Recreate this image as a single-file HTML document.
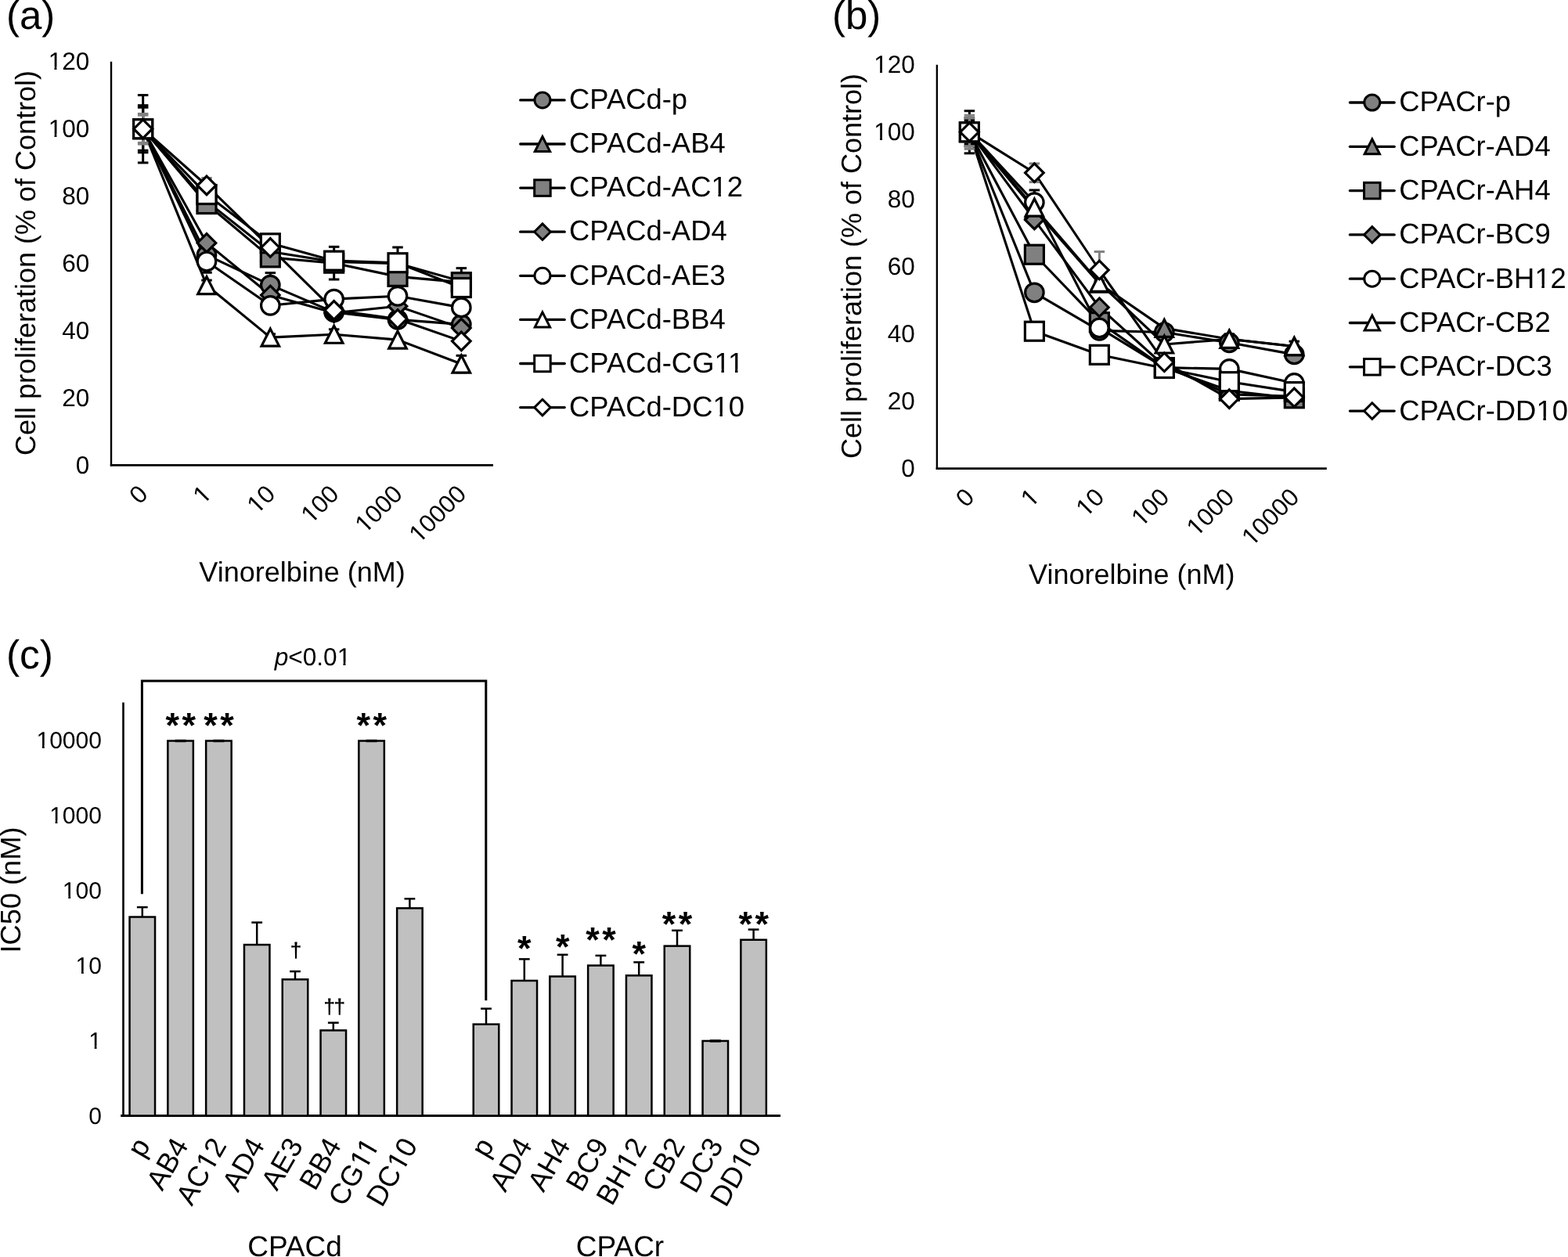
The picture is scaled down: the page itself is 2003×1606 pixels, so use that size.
<!DOCTYPE html><html><head><meta charset="utf-8"><title>Figure</title><style>html,body{margin:0;padding:0;background:#fff;}svg{display:block;}text{font-family:'Liberation Sans', Arial, sans-serif;fill:#000;text-rendering:geometricPrecision;}</style></head><body>
<svg width="2003" height="1606" viewBox="0 0 2003 1606">
<rect x="0" y="0" width="2003" height="1606" fill="#fff"/>
<line x1="142" y1="78.8" x2="142" y2="595.6" stroke="#000" stroke-width="2.4" stroke-linecap="butt"/>
<line x1="140.8" y1="594.4" x2="630" y2="594.4" stroke="#000" stroke-width="2.6" stroke-linecap="butt"/>
<text x="114.2" y="604.6" font-size="31.5" text-anchor="end">0</text>
<text x="114.2" y="518.67" font-size="31.5" text-anchor="end">20</text>
<text x="114.2" y="432.73" font-size="31.5" text-anchor="end">40</text>
<text x="114.2" y="346.8" font-size="31.5" text-anchor="end">60</text>
<text x="114.2" y="260.87" font-size="31.5" text-anchor="end">80</text>
<text x="114.2" y="174.93" font-size="31.5" text-anchor="end">100</text><g fill="#fff"><rect x="63.33" y="171.24" width="6.14" height="4.61"/><rect x="72.43" y="171.24" width="5.97" height="4.61"/></g>
<text x="114.2" y="89" font-size="31.5" text-anchor="end">120</text><g fill="#fff"><rect x="63.33" y="85.31" width="6.14" height="4.61"/><rect x="72.43" y="85.31" width="5.97" height="4.61"/></g>
<text x="0" y="0" font-size="31.5" text-anchor="end" transform="translate(190.67 633) rotate(-45)">0</text>
<text x="0" y="0" font-size="31.5" text-anchor="end" transform="translate(272 633) rotate(-45)">1</text><g fill="#fff" transform="translate(272 633) rotate(-45)"><rect x="-15.84" y="-3.69" width="6.14" height="4.61"/><rect x="-6.73" y="-3.69" width="5.97" height="4.61"/></g>
<text x="0" y="0" font-size="31.5" text-anchor="end" transform="translate(353.33 633) rotate(-45)">10</text><g fill="#fff" transform="translate(353.33 633) rotate(-45)"><rect x="-33.35" y="-3.69" width="6.14" height="4.61"/><rect x="-24.25" y="-3.69" width="5.97" height="4.61"/></g>
<text x="0" y="0" font-size="31.5" text-anchor="end" transform="translate(434.67 633) rotate(-45)">100</text><g fill="#fff" transform="translate(434.67 633) rotate(-45)"><rect x="-50.87" y="-3.69" width="6.14" height="4.61"/><rect x="-41.77" y="-3.69" width="5.97" height="4.61"/></g>
<text x="0" y="0" font-size="31.5" text-anchor="end" transform="translate(516 633) rotate(-45)">1000</text><g fill="#fff" transform="translate(516 633) rotate(-45)"><rect x="-68.39" y="-3.69" width="6.14" height="4.61"/><rect x="-59.28" y="-3.69" width="5.97" height="4.61"/></g>
<text x="0" y="0" font-size="31.5" text-anchor="end" transform="translate(597.33 633) rotate(-45)">10000</text><g fill="#fff" transform="translate(597.33 633) rotate(-45)"><rect x="-85.92" y="-3.69" width="6.14" height="4.61"/><rect x="-76.81" y="-3.69" width="5.97" height="4.61"/></g>
<text x="0" y="0" font-size="36" text-anchor="middle" transform="translate(45.3 336) rotate(-90)">Cell proliferation (% of Control)</text>
<text x="386" y="743.1" font-size="36" text-anchor="middle">Vinorelbine (nM)</text>
<text x="8" y="36.7" font-size="51" text-anchor="start">(a)</text>
<polyline points="182.67,164.73 264,325.86 345.33,364.1 426.67,398.9 508,408.35 589.33,414.37" fill="none" stroke="#000" stroke-width="3.1" stroke-linejoin="round"/>
<polyline points="182.67,164.73 264,257.11 345.33,321.56 426.67,334.45 508,336.6 589.33,359.37" fill="none" stroke="#000" stroke-width="3.1" stroke-linejoin="round"/>
<polyline points="182.67,164.73 264,260.55 345.33,328.87 426.67,336.17 508,353.36 589.33,360.66" fill="none" stroke="#000" stroke-width="3.1" stroke-linejoin="round"/>
<polyline points="182.67,164.73 264,310.39 345.33,376.99 426.67,399.76 508,391.17 589.33,419.1" fill="none" stroke="#000" stroke-width="3.1" stroke-linejoin="round"/>
<polyline points="182.67,164.73 264,334.02 345.33,390.31 426.67,382.14 508,378.28 589.33,392.89" fill="none" stroke="#000" stroke-width="3.1" stroke-linejoin="round"/>
<polyline points="182.67,164.73 264,364.53 345.33,431.13 426.67,427.26 508,434.13 589.33,465.07" fill="none" stroke="#000" stroke-width="3.1" stroke-linejoin="round"/>
<polyline points="182.67,164.73 264,248.52 345.33,310.82 426.67,333.16 508,335.74 589.33,367.54" fill="none" stroke="#000" stroke-width="3.1" stroke-linejoin="round"/>
<polyline points="182.67,164.73 264,236.92 345.33,316.41 426.67,396.32 508,407.5 589.33,435.85" fill="none" stroke="#000" stroke-width="3.1" stroke-linejoin="round"/>
<line x1="182.67" y1="164.73" x2="182.67" y2="121.55" stroke="#000" stroke-width="3" stroke-linecap="butt"/>
<line x1="175.92" y1="121.55" x2="189.42" y2="121.55" stroke="#000" stroke-width="3" stroke-linecap="butt"/>
<line x1="182.67" y1="164.73" x2="182.67" y2="207.91" stroke="#000" stroke-width="3" stroke-linecap="butt"/>
<line x1="175.92" y1="207.91" x2="189.42" y2="207.91" stroke="#000" stroke-width="3" stroke-linecap="butt"/>
<line x1="345.33" y1="364.1" x2="345.33" y2="348.63" stroke="#000" stroke-width="3" stroke-linecap="butt"/>
<line x1="338.58" y1="348.63" x2="352.08" y2="348.63" stroke="#000" stroke-width="3" stroke-linecap="butt"/>
<line x1="345.33" y1="364.1" x2="345.33" y2="379.57" stroke="#000" stroke-width="3" stroke-linecap="butt"/>
<line x1="338.58" y1="379.57" x2="352.08" y2="379.57" stroke="#000" stroke-width="3" stroke-linecap="butt"/>
<line x1="182.67" y1="164.73" x2="182.67" y2="134.66" stroke="#000" stroke-width="3" stroke-linecap="butt"/>
<line x1="175.92" y1="134.66" x2="189.42" y2="134.66" stroke="#000" stroke-width="3" stroke-linecap="butt"/>
<line x1="182.67" y1="164.73" x2="182.67" y2="194.81" stroke="#000" stroke-width="3" stroke-linecap="butt"/>
<line x1="175.92" y1="194.81" x2="189.42" y2="194.81" stroke="#000" stroke-width="3" stroke-linecap="butt"/>
<line x1="182.67" y1="164.73" x2="182.67" y2="137.23" stroke="#000" stroke-width="3" stroke-linecap="butt"/>
<line x1="175.92" y1="137.23" x2="189.42" y2="137.23" stroke="#000" stroke-width="3" stroke-linecap="butt"/>
<line x1="182.67" y1="164.73" x2="182.67" y2="192.23" stroke="#000" stroke-width="3" stroke-linecap="butt"/>
<line x1="175.92" y1="192.23" x2="189.42" y2="192.23" stroke="#000" stroke-width="3" stroke-linecap="butt"/>
<line x1="589.33" y1="360.66" x2="589.33" y2="342.62" stroke="#000" stroke-width="3" stroke-linecap="butt"/>
<line x1="582.58" y1="342.62" x2="596.08" y2="342.62" stroke="#000" stroke-width="3" stroke-linecap="butt"/>
<line x1="589.33" y1="360.66" x2="589.33" y2="378.71" stroke="#000" stroke-width="3" stroke-linecap="butt"/>
<line x1="582.58" y1="378.71" x2="596.08" y2="378.71" stroke="#000" stroke-width="3" stroke-linecap="butt"/>
<line x1="264" y1="260.55" x2="264" y2="251.96" stroke="#000" stroke-width="3" stroke-linecap="butt"/>
<line x1="257.25" y1="251.96" x2="270.75" y2="251.96" stroke="#000" stroke-width="3" stroke-linecap="butt"/>
<line x1="264" y1="260.55" x2="264" y2="269.14" stroke="#000" stroke-width="3" stroke-linecap="butt"/>
<line x1="257.25" y1="269.14" x2="270.75" y2="269.14" stroke="#000" stroke-width="3" stroke-linecap="butt"/>
<line x1="426.67" y1="336.17" x2="426.67" y2="315.33" stroke="#000" stroke-width="3" stroke-linecap="butt"/>
<line x1="419.92" y1="315.33" x2="433.42" y2="315.33" stroke="#000" stroke-width="3" stroke-linecap="butt"/>
<line x1="426.67" y1="336.17" x2="426.67" y2="357.01" stroke="#000" stroke-width="3" stroke-linecap="butt"/>
<line x1="419.92" y1="357.01" x2="433.42" y2="357.01" stroke="#000" stroke-width="3" stroke-linecap="butt"/>
<line x1="182.67" y1="164.73" x2="182.67" y2="145.4" stroke="#808080" stroke-width="3" stroke-linecap="butt"/>
<line x1="175.92" y1="145.4" x2="189.42" y2="145.4" stroke="#808080" stroke-width="3" stroke-linecap="butt"/>
<line x1="182.67" y1="164.73" x2="182.67" y2="184.07" stroke="#808080" stroke-width="3" stroke-linecap="butt"/>
<line x1="175.92" y1="184.07" x2="189.42" y2="184.07" stroke="#808080" stroke-width="3" stroke-linecap="butt"/>
<line x1="264" y1="334.02" x2="264" y2="319.84" stroke="#000" stroke-width="3" stroke-linecap="butt"/>
<line x1="257.25" y1="319.84" x2="270.75" y2="319.84" stroke="#000" stroke-width="3" stroke-linecap="butt"/>
<line x1="264" y1="334.02" x2="264" y2="348.2" stroke="#000" stroke-width="3" stroke-linecap="butt"/>
<line x1="257.25" y1="348.2" x2="270.75" y2="348.2" stroke="#000" stroke-width="3" stroke-linecap="butt"/>
<line x1="264" y1="364.53" x2="264" y2="358.08" stroke="#000" stroke-width="3" stroke-linecap="butt"/>
<line x1="257.25" y1="358.08" x2="270.75" y2="358.08" stroke="#000" stroke-width="3" stroke-linecap="butt"/>
<line x1="264" y1="364.53" x2="264" y2="370.97" stroke="#000" stroke-width="3" stroke-linecap="butt"/>
<line x1="257.25" y1="370.97" x2="270.75" y2="370.97" stroke="#000" stroke-width="3" stroke-linecap="butt"/>
<line x1="589.33" y1="465.07" x2="589.33" y2="454.33" stroke="#000" stroke-width="3" stroke-linecap="butt"/>
<line x1="582.58" y1="454.33" x2="596.08" y2="454.33" stroke="#000" stroke-width="3" stroke-linecap="butt"/>
<line x1="589.33" y1="465.07" x2="589.33" y2="475.81" stroke="#000" stroke-width="3" stroke-linecap="butt"/>
<line x1="582.58" y1="475.81" x2="596.08" y2="475.81" stroke="#000" stroke-width="3" stroke-linecap="butt"/>
<line x1="345.33" y1="431.13" x2="345.33" y2="426.83" stroke="#000" stroke-width="3" stroke-linecap="butt"/>
<line x1="338.58" y1="426.83" x2="352.08" y2="426.83" stroke="#000" stroke-width="3" stroke-linecap="butt"/>
<line x1="345.33" y1="431.13" x2="345.33" y2="435.42" stroke="#000" stroke-width="3" stroke-linecap="butt"/>
<line x1="338.58" y1="435.42" x2="352.08" y2="435.42" stroke="#000" stroke-width="3" stroke-linecap="butt"/>
<line x1="426.67" y1="427.26" x2="426.67" y2="420.81" stroke="#000" stroke-width="3" stroke-linecap="butt"/>
<line x1="419.92" y1="420.81" x2="433.42" y2="420.81" stroke="#000" stroke-width="3" stroke-linecap="butt"/>
<line x1="426.67" y1="427.26" x2="426.67" y2="433.7" stroke="#000" stroke-width="3" stroke-linecap="butt"/>
<line x1="419.92" y1="433.7" x2="433.42" y2="433.7" stroke="#000" stroke-width="3" stroke-linecap="butt"/>
<line x1="508" y1="335.74" x2="508" y2="315.98" stroke="#000" stroke-width="3" stroke-linecap="butt"/>
<line x1="501.25" y1="315.98" x2="514.75" y2="315.98" stroke="#000" stroke-width="3" stroke-linecap="butt"/>
<line x1="508" y1="335.74" x2="508" y2="355.51" stroke="#000" stroke-width="3" stroke-linecap="butt"/>
<line x1="501.25" y1="355.51" x2="514.75" y2="355.51" stroke="#000" stroke-width="3" stroke-linecap="butt"/>
<line x1="264" y1="248.52" x2="264" y2="239.92" stroke="#000" stroke-width="3" stroke-linecap="butt"/>
<line x1="257.25" y1="239.92" x2="270.75" y2="239.92" stroke="#000" stroke-width="3" stroke-linecap="butt"/>
<line x1="264" y1="248.52" x2="264" y2="257.11" stroke="#000" stroke-width="3" stroke-linecap="butt"/>
<line x1="257.25" y1="257.11" x2="270.75" y2="257.11" stroke="#000" stroke-width="3" stroke-linecap="butt"/>
<line x1="182.67" y1="164.73" x2="182.67" y2="147.12" stroke="#808080" stroke-width="3" stroke-linecap="butt"/>
<line x1="175.92" y1="147.12" x2="189.42" y2="147.12" stroke="#808080" stroke-width="3" stroke-linecap="butt"/>
<line x1="182.67" y1="164.73" x2="182.67" y2="182.35" stroke="#808080" stroke-width="3" stroke-linecap="butt"/>
<line x1="175.92" y1="182.35" x2="189.42" y2="182.35" stroke="#808080" stroke-width="3" stroke-linecap="butt"/>
<line x1="264" y1="236.92" x2="264" y2="227.46" stroke="#808080" stroke-width="3" stroke-linecap="butt"/>
<line x1="257.25" y1="227.46" x2="270.75" y2="227.46" stroke="#808080" stroke-width="3" stroke-linecap="butt"/>
<line x1="264" y1="236.92" x2="264" y2="246.37" stroke="#808080" stroke-width="3" stroke-linecap="butt"/>
<line x1="257.25" y1="246.37" x2="270.75" y2="246.37" stroke="#808080" stroke-width="3" stroke-linecap="butt"/>
<circle cx="182.67" cy="164.73" r="11.75" fill="#808080" stroke="#000" stroke-width="3.2"/>
<circle cx="264" cy="325.86" r="11.75" fill="#808080" stroke="#000" stroke-width="3.2"/>
<circle cx="345.33" cy="364.1" r="11.75" fill="#808080" stroke="#000" stroke-width="3.2"/>
<circle cx="426.67" cy="398.9" r="11.75" fill="#808080" stroke="#000" stroke-width="3.2"/>
<circle cx="508" cy="408.35" r="11.75" fill="#808080" stroke="#000" stroke-width="3.2"/>
<circle cx="589.33" cy="414.37" r="11.75" fill="#808080" stroke="#000" stroke-width="3.2"/>
<path d="M182.67 153.73L193.92 175.73L171.42 175.73Z" fill="#808080" stroke="#000" stroke-width="3.2"/>
<path d="M264 246.11L275.25 268.11L252.75 268.11Z" fill="#808080" stroke="#000" stroke-width="3.2"/>
<path d="M345.33 310.56L356.58 332.56L334.08 332.56Z" fill="#808080" stroke="#000" stroke-width="3.2"/>
<path d="M426.67 323.45L437.92 345.45L415.42 345.45Z" fill="#808080" stroke="#000" stroke-width="3.2"/>
<path d="M508 325.6L519.25 347.6L496.75 347.6Z" fill="#808080" stroke="#000" stroke-width="3.2"/>
<path d="M589.33 348.37L600.58 370.37L578.08 370.37Z" fill="#808080" stroke="#000" stroke-width="3.2"/>
<rect x="170.67" y="152.73" width="24" height="24" fill="#808080" stroke="#000" stroke-width="3.2"/>
<rect x="252" y="248.55" width="24" height="24" fill="#808080" stroke="#000" stroke-width="3.2"/>
<rect x="333.33" y="316.87" width="24" height="24" fill="#808080" stroke="#000" stroke-width="3.2"/>
<rect x="414.67" y="324.17" width="24" height="24" fill="#808080" stroke="#000" stroke-width="3.2"/>
<rect x="496" y="341.36" width="24" height="24" fill="#808080" stroke="#000" stroke-width="3.2"/>
<rect x="577.33" y="348.66" width="24" height="24" fill="#808080" stroke="#000" stroke-width="3.2"/>
<path d="M182.67 152.93L194.47 164.73L182.67 176.53L170.87 164.73Z" fill="#808080" stroke="#000" stroke-width="3.2"/>
<path d="M264 298.59L275.8 310.39L264 322.19L252.2 310.39Z" fill="#808080" stroke="#000" stroke-width="3.2"/>
<path d="M345.33 365.19L357.13 376.99L345.33 388.79L333.53 376.99Z" fill="#808080" stroke="#000" stroke-width="3.2"/>
<path d="M426.67 387.96L438.47 399.76L426.67 411.56L414.87 399.76Z" fill="#808080" stroke="#000" stroke-width="3.2"/>
<path d="M508 379.37L519.8 391.17L508 402.97L496.2 391.17Z" fill="#808080" stroke="#000" stroke-width="3.2"/>
<path d="M589.33 407.3L601.13 419.1L589.33 430.9L577.53 419.1Z" fill="#808080" stroke="#000" stroke-width="3.2"/>
<circle cx="182.67" cy="164.73" r="11.75" fill="#fff" stroke="#000" stroke-width="3.2"/>
<circle cx="264" cy="334.02" r="11.75" fill="#fff" stroke="#000" stroke-width="3.2"/>
<circle cx="345.33" cy="390.31" r="11.75" fill="#fff" stroke="#000" stroke-width="3.2"/>
<circle cx="426.67" cy="382.14" r="11.75" fill="#fff" stroke="#000" stroke-width="3.2"/>
<circle cx="508" cy="378.28" r="11.75" fill="#fff" stroke="#000" stroke-width="3.2"/>
<circle cx="589.33" cy="392.89" r="11.75" fill="#fff" stroke="#000" stroke-width="3.2"/>
<path d="M182.67 153.73L193.92 175.73L171.42 175.73Z" fill="#fff" stroke="#000" stroke-width="3.2"/>
<path d="M264 353.53L275.25 375.53L252.75 375.53Z" fill="#fff" stroke="#000" stroke-width="3.2"/>
<path d="M345.33 420.13L356.58 442.13L334.08 442.13Z" fill="#fff" stroke="#000" stroke-width="3.2"/>
<path d="M426.67 416.26L437.92 438.26L415.42 438.26Z" fill="#fff" stroke="#000" stroke-width="3.2"/>
<path d="M508 423.13L519.25 445.13L496.75 445.13Z" fill="#fff" stroke="#000" stroke-width="3.2"/>
<path d="M589.33 454.07L600.58 476.07L578.08 476.07Z" fill="#fff" stroke="#000" stroke-width="3.2"/>
<rect x="170.67" y="152.73" width="24" height="24" fill="#fff" stroke="#000" stroke-width="3.2"/>
<rect x="252" y="236.52" width="24" height="24" fill="#fff" stroke="#000" stroke-width="3.2"/>
<rect x="333.33" y="298.82" width="24" height="24" fill="#fff" stroke="#000" stroke-width="3.2"/>
<rect x="414.67" y="321.16" width="24" height="24" fill="#fff" stroke="#000" stroke-width="3.2"/>
<rect x="496" y="323.74" width="24" height="24" fill="#fff" stroke="#000" stroke-width="3.2"/>
<rect x="577.33" y="355.54" width="24" height="24" fill="#fff" stroke="#000" stroke-width="3.2"/>
<path d="M182.67 152.93L194.47 164.73L182.67 176.53L170.87 164.73Z" fill="#fff" stroke="#000" stroke-width="3.2"/>
<path d="M264 225.12L275.8 236.92L264 248.72L252.2 236.92Z" fill="#fff" stroke="#000" stroke-width="3.2"/>
<path d="M345.33 304.61L357.13 316.41L345.33 328.21L333.53 316.41Z" fill="#fff" stroke="#000" stroke-width="3.2"/>
<path d="M426.67 384.52L438.47 396.32L426.67 408.12L414.87 396.32Z" fill="#fff" stroke="#000" stroke-width="3.2"/>
<path d="M508 395.69L519.8 407.5L508 419.3L496.2 407.5Z" fill="#fff" stroke="#000" stroke-width="3.2"/>
<path d="M589.33 424.05L601.13 435.85L589.33 447.65L577.53 435.85Z" fill="#fff" stroke="#000" stroke-width="3.2"/>
<line x1="664.7" y1="127.9" x2="721.2" y2="127.9" stroke="#000" stroke-width="3.3" stroke-linecap="round"/>
<circle cx="692.95" cy="127.9" r="10" fill="#808080" stroke="#000" stroke-width="3"/>
<text x="727.1" y="139.1" font-size="36.4" text-anchor="start">CPACd-p</text>
<line x1="664.7" y1="184" x2="721.2" y2="184" stroke="#000" stroke-width="3.3" stroke-linecap="round"/>
<path d="M692.95 174.5L702.6 193.5L683.3 193.5Z" fill="#808080" stroke="#000" stroke-width="3"/>
<text x="727.1" y="195.2" font-size="36.4" text-anchor="start">CPACd-AB4</text>
<line x1="664.7" y1="240.1" x2="721.2" y2="240.1" stroke="#000" stroke-width="3.3" stroke-linecap="round"/>
<rect x="682.7" y="229.85" width="20.5" height="20.5" fill="#808080" stroke="#000" stroke-width="3"/>
<text x="727.1" y="251.3" font-size="36.4" text-anchor="start">CPACd-AC12</text><g fill="#fff"><rect x="910.37" y="247.03" width="7.09" height="5.33"/><rect x="920.89" y="247.03" width="6.90" height="5.33"/></g>
<line x1="664.7" y1="296.2" x2="721.2" y2="296.2" stroke="#000" stroke-width="3.3" stroke-linecap="round"/>
<path d="M692.95 285.9L703.25 296.2L692.95 306.5L682.65 296.2Z" fill="#808080" stroke="#000" stroke-width="3"/>
<text x="727.1" y="307.4" font-size="36.4" text-anchor="start">CPACd-AD4</text>
<line x1="664.7" y1="352.3" x2="721.2" y2="352.3" stroke="#000" stroke-width="3.3" stroke-linecap="round"/>
<circle cx="692.95" cy="352.3" r="10" fill="#fff" stroke="#000" stroke-width="3"/>
<text x="727.1" y="363.5" font-size="36.4" text-anchor="start">CPACd-AE3</text>
<line x1="664.7" y1="408.4" x2="721.2" y2="408.4" stroke="#000" stroke-width="3.3" stroke-linecap="round"/>
<path d="M692.95 398.9L702.6 417.9L683.3 417.9Z" fill="#fff" stroke="#000" stroke-width="3"/>
<text x="727.1" y="419.6" font-size="36.4" text-anchor="start">CPACd-BB4</text>
<line x1="664.7" y1="464.5" x2="721.2" y2="464.5" stroke="#000" stroke-width="3.3" stroke-linecap="round"/>
<rect x="682.7" y="454.25" width="20.5" height="20.5" fill="#fff" stroke="#000" stroke-width="3"/>
<text x="727.1" y="475.7" font-size="36.4" text-anchor="start">CPACd-CG11</text><g fill="#fff"><rect x="914.40" y="471.43" width="7.09" height="5.33"/><rect x="924.92" y="471.43" width="6.90" height="5.33"/><rect x="931.93" y="471.43" width="7.09" height="5.33"/><rect x="942.45" y="471.43" width="6.90" height="5.33"/></g>
<line x1="664.7" y1="520.6" x2="721.2" y2="520.6" stroke="#000" stroke-width="3.3" stroke-linecap="round"/>
<path d="M692.95 510.3L703.25 520.6L692.95 530.9L682.65 520.6Z" fill="#fff" stroke="#000" stroke-width="3"/>
<text x="727.1" y="531.8" font-size="36.4" text-anchor="start">CPACd-DC10</text><g fill="#fff"><rect x="912.37" y="527.53" width="7.09" height="5.33"/><rect x="922.89" y="527.53" width="6.90" height="5.33"/></g>
<line x1="1196.9" y1="82.8" x2="1196.9" y2="599.8" stroke="#000" stroke-width="2.4" stroke-linecap="butt"/>
<line x1="1195.7" y1="598.6" x2="1694.8" y2="598.6" stroke="#000" stroke-width="2.6" stroke-linecap="butt"/>
<text x="1168.8" y="609" font-size="31.5" text-anchor="end">0</text>
<text x="1168.8" y="523.03" font-size="31.5" text-anchor="end">20</text>
<text x="1168.8" y="437.07" font-size="31.5" text-anchor="end">40</text>
<text x="1168.8" y="351.1" font-size="31.5" text-anchor="end">60</text>
<text x="1168.8" y="265.13" font-size="31.5" text-anchor="end">80</text>
<text x="1168.8" y="179.17" font-size="31.5" text-anchor="end">100</text><g fill="#fff"><rect x="1117.93" y="175.48" width="6.14" height="4.61"/><rect x="1127.03" y="175.48" width="5.97" height="4.61"/></g>
<text x="1168.8" y="93.2" font-size="31.5" text-anchor="end">120</text><g fill="#fff"><rect x="1117.93" y="89.51" width="6.14" height="4.61"/><rect x="1127.03" y="89.51" width="5.97" height="4.61"/></g>
<text x="0" y="0" font-size="31.5" text-anchor="end" transform="translate(1246.39 637) rotate(-45)">0</text>
<text x="0" y="0" font-size="31.5" text-anchor="end" transform="translate(1329.38 637) rotate(-45)">1</text><g fill="#fff" transform="translate(1329.38 637) rotate(-45)"><rect x="-15.84" y="-3.69" width="6.14" height="4.61"/><rect x="-6.73" y="-3.69" width="5.97" height="4.61"/></g>
<text x="0" y="0" font-size="31.5" text-anchor="end" transform="translate(1412.36 637) rotate(-45)">10</text><g fill="#fff" transform="translate(1412.36 637) rotate(-45)"><rect x="-33.35" y="-3.69" width="6.14" height="4.61"/><rect x="-24.25" y="-3.69" width="5.97" height="4.61"/></g>
<text x="0" y="0" font-size="31.5" text-anchor="end" transform="translate(1495.34 637) rotate(-45)">100</text><g fill="#fff" transform="translate(1495.34 637) rotate(-45)"><rect x="-50.87" y="-3.69" width="6.14" height="4.61"/><rect x="-41.77" y="-3.69" width="5.97" height="4.61"/></g>
<text x="0" y="0" font-size="31.5" text-anchor="end" transform="translate(1578.33 637) rotate(-45)">1000</text><g fill="#fff" transform="translate(1578.33 637) rotate(-45)"><rect x="-68.39" y="-3.69" width="6.14" height="4.61"/><rect x="-59.28" y="-3.69" width="5.97" height="4.61"/></g>
<text x="0" y="0" font-size="31.5" text-anchor="end" transform="translate(1661.31 637) rotate(-45)">10000</text><g fill="#fff" transform="translate(1661.31 637) rotate(-45)"><rect x="-85.92" y="-3.69" width="6.14" height="4.61"/><rect x="-76.81" y="-3.69" width="5.97" height="4.61"/></g>
<text x="0" y="0" font-size="36" text-anchor="middle" transform="translate(1100.3 340) rotate(-90)">Cell proliferation (% of Control)</text>
<text x="1445.85" y="746.4" font-size="36" text-anchor="middle">Vinorelbine (nM)</text>
<text x="1063" y="37" font-size="51" text-anchor="start">(b)</text>
<polyline points="1238.39,168.77 1321.38,373.8 1404.36,422.37 1487.34,424.52 1570.33,437.84 1653.31,452.89" fill="none" stroke="#000" stroke-width="3.1" stroke-linejoin="round"/>
<polyline points="1238.39,168.77 1321.38,267.63 1404.36,362.19 1487.34,419.36 1570.33,433.33 1653.31,442.57" fill="none" stroke="#000" stroke-width="3.1" stroke-linejoin="round"/>
<polyline points="1238.39,168.77 1321.38,325.23 1404.36,411.62 1487.34,469.65 1570.33,499.31 1653.31,508.76" fill="none" stroke="#000" stroke-width="3.1" stroke-linejoin="round"/>
<polyline points="1238.39,168.77 1321.38,280.95 1404.36,392.71 1487.34,467.5 1570.33,504.04 1653.31,506.19" fill="none" stroke="#000" stroke-width="3.1" stroke-linejoin="round"/>
<polyline points="1238.39,168.77 1321.38,258.6 1404.36,418.93 1487.34,469.65 1570.33,471.37 1653.31,489.42" fill="none" stroke="#000" stroke-width="3.1" stroke-linejoin="round"/>
<polyline points="1238.39,168.77 1321.38,265.05 1404.36,361.33 1487.34,439.99 1570.33,433.33 1653.31,442.57" fill="none" stroke="#000" stroke-width="3.1" stroke-linejoin="round"/>
<polyline points="1238.39,168.77 1321.38,423.23 1404.36,453.32 1487.34,470.51 1570.33,487.7 1653.31,500.6" fill="none" stroke="#000" stroke-width="3.1" stroke-linejoin="round"/>
<polyline points="1238.39,168.77 1321.38,220.78 1404.36,345 1487.34,462.77 1570.33,509.62 1653.31,507.91" fill="none" stroke="#000" stroke-width="3.1" stroke-linejoin="round"/>
<line x1="1238.39" y1="168.77" x2="1238.39" y2="141.69" stroke="#000" stroke-width="3" stroke-linecap="butt"/>
<line x1="1231.64" y1="141.69" x2="1245.14" y2="141.69" stroke="#000" stroke-width="3" stroke-linecap="butt"/>
<line x1="1238.39" y1="168.77" x2="1238.39" y2="195.85" stroke="#000" stroke-width="3" stroke-linecap="butt"/>
<line x1="1231.64" y1="195.85" x2="1245.14" y2="195.85" stroke="#000" stroke-width="3" stroke-linecap="butt"/>
<line x1="1238.39" y1="168.77" x2="1238.39" y2="150.71" stroke="#000" stroke-width="3" stroke-linecap="butt"/>
<line x1="1231.64" y1="150.71" x2="1245.14" y2="150.71" stroke="#000" stroke-width="3" stroke-linecap="butt"/>
<line x1="1238.39" y1="168.77" x2="1238.39" y2="186.82" stroke="#000" stroke-width="3" stroke-linecap="butt"/>
<line x1="1231.64" y1="186.82" x2="1245.14" y2="186.82" stroke="#000" stroke-width="3" stroke-linecap="butt"/>
<line x1="1238.39" y1="168.77" x2="1238.39" y2="153.72" stroke="#000" stroke-width="3" stroke-linecap="butt"/>
<line x1="1231.64" y1="153.72" x2="1245.14" y2="153.72" stroke="#000" stroke-width="3" stroke-linecap="butt"/>
<line x1="1238.39" y1="168.77" x2="1238.39" y2="183.81" stroke="#000" stroke-width="3" stroke-linecap="butt"/>
<line x1="1231.64" y1="183.81" x2="1245.14" y2="183.81" stroke="#000" stroke-width="3" stroke-linecap="butt"/>
<line x1="1238.39" y1="168.77" x2="1238.39" y2="147.27" stroke="#808080" stroke-width="3" stroke-linecap="butt"/>
<line x1="1231.64" y1="147.27" x2="1245.14" y2="147.27" stroke="#808080" stroke-width="3" stroke-linecap="butt"/>
<line x1="1238.39" y1="168.77" x2="1238.39" y2="190.26" stroke="#808080" stroke-width="3" stroke-linecap="butt"/>
<line x1="1231.64" y1="190.26" x2="1245.14" y2="190.26" stroke="#808080" stroke-width="3" stroke-linecap="butt"/>
<line x1="1321.38" y1="258.6" x2="1321.38" y2="242.91" stroke="#000" stroke-width="3" stroke-linecap="butt"/>
<line x1="1314.62" y1="242.91" x2="1328.12" y2="242.91" stroke="#000" stroke-width="3" stroke-linecap="butt"/>
<line x1="1321.38" y1="258.6" x2="1321.38" y2="274.29" stroke="#000" stroke-width="3" stroke-linecap="butt"/>
<line x1="1314.62" y1="274.29" x2="1328.12" y2="274.29" stroke="#000" stroke-width="3" stroke-linecap="butt"/>
<line x1="1487.34" y1="439.99" x2="1487.34" y2="433.54" stroke="#000" stroke-width="3" stroke-linecap="butt"/>
<line x1="1480.59" y1="433.54" x2="1494.09" y2="433.54" stroke="#000" stroke-width="3" stroke-linecap="butt"/>
<line x1="1487.34" y1="439.99" x2="1487.34" y2="446.44" stroke="#000" stroke-width="3" stroke-linecap="butt"/>
<line x1="1480.59" y1="446.44" x2="1494.09" y2="446.44" stroke="#000" stroke-width="3" stroke-linecap="butt"/>
<line x1="1570.33" y1="433.33" x2="1570.33" y2="426.88" stroke="#000" stroke-width="3" stroke-linecap="butt"/>
<line x1="1563.58" y1="426.88" x2="1577.08" y2="426.88" stroke="#000" stroke-width="3" stroke-linecap="butt"/>
<line x1="1570.33" y1="433.33" x2="1570.33" y2="439.78" stroke="#000" stroke-width="3" stroke-linecap="butt"/>
<line x1="1563.58" y1="439.78" x2="1577.08" y2="439.78" stroke="#000" stroke-width="3" stroke-linecap="butt"/>
<line x1="1653.31" y1="442.57" x2="1653.31" y2="436.12" stroke="#000" stroke-width="3" stroke-linecap="butt"/>
<line x1="1646.56" y1="436.12" x2="1660.06" y2="436.12" stroke="#000" stroke-width="3" stroke-linecap="butt"/>
<line x1="1653.31" y1="442.57" x2="1653.31" y2="449.02" stroke="#000" stroke-width="3" stroke-linecap="butt"/>
<line x1="1646.56" y1="449.02" x2="1660.06" y2="449.02" stroke="#000" stroke-width="3" stroke-linecap="butt"/>
<line x1="1404.36" y1="361.33" x2="1404.36" y2="359.18" stroke="#000" stroke-width="3" stroke-linecap="butt"/>
<line x1="1397.61" y1="359.18" x2="1411.11" y2="359.18" stroke="#000" stroke-width="3" stroke-linecap="butt"/>
<line x1="1404.36" y1="361.33" x2="1404.36" y2="363.48" stroke="#000" stroke-width="3" stroke-linecap="butt"/>
<line x1="1397.61" y1="363.48" x2="1411.11" y2="363.48" stroke="#000" stroke-width="3" stroke-linecap="butt"/>
<line x1="1238.39" y1="168.77" x2="1238.39" y2="150.71" stroke="#808080" stroke-width="3" stroke-linecap="butt"/>
<line x1="1231.64" y1="150.71" x2="1245.14" y2="150.71" stroke="#808080" stroke-width="3" stroke-linecap="butt"/>
<line x1="1238.39" y1="168.77" x2="1238.39" y2="186.82" stroke="#808080" stroke-width="3" stroke-linecap="butt"/>
<line x1="1231.64" y1="186.82" x2="1245.14" y2="186.82" stroke="#808080" stroke-width="3" stroke-linecap="butt"/>
<line x1="1321.38" y1="220.78" x2="1321.38" y2="208.96" stroke="#808080" stroke-width="3" stroke-linecap="butt"/>
<line x1="1314.62" y1="208.96" x2="1328.12" y2="208.96" stroke="#808080" stroke-width="3" stroke-linecap="butt"/>
<line x1="1321.38" y1="220.78" x2="1321.38" y2="232.6" stroke="#808080" stroke-width="3" stroke-linecap="butt"/>
<line x1="1314.62" y1="232.6" x2="1328.12" y2="232.6" stroke="#808080" stroke-width="3" stroke-linecap="butt"/>
<line x1="1404.36" y1="345" x2="1404.36" y2="321.57" stroke="#808080" stroke-width="3" stroke-linecap="butt"/>
<line x1="1397.61" y1="321.57" x2="1411.11" y2="321.57" stroke="#808080" stroke-width="3" stroke-linecap="butt"/>
<line x1="1404.36" y1="345" x2="1404.36" y2="368.42" stroke="#808080" stroke-width="3" stroke-linecap="butt"/>
<line x1="1397.61" y1="368.42" x2="1411.11" y2="368.42" stroke="#808080" stroke-width="3" stroke-linecap="butt"/>
<circle cx="1238.39" cy="168.77" r="11.75" fill="#808080" stroke="#000" stroke-width="3.2"/>
<circle cx="1321.38" cy="373.8" r="11.75" fill="#808080" stroke="#000" stroke-width="3.2"/>
<circle cx="1404.36" cy="422.37" r="11.75" fill="#808080" stroke="#000" stroke-width="3.2"/>
<circle cx="1487.34" cy="424.52" r="11.75" fill="#808080" stroke="#000" stroke-width="3.2"/>
<circle cx="1570.33" cy="437.84" r="11.75" fill="#808080" stroke="#000" stroke-width="3.2"/>
<circle cx="1653.31" cy="452.89" r="11.75" fill="#808080" stroke="#000" stroke-width="3.2"/>
<path d="M1238.39 157.77L1249.64 179.77L1227.14 179.77Z" fill="#808080" stroke="#000" stroke-width="3.2"/>
<path d="M1321.38 256.63L1332.62 278.63L1310.12 278.63Z" fill="#808080" stroke="#000" stroke-width="3.2"/>
<path d="M1404.36 351.19L1415.61 373.19L1393.11 373.19Z" fill="#808080" stroke="#000" stroke-width="3.2"/>
<path d="M1487.34 408.36L1498.59 430.36L1476.09 430.36Z" fill="#808080" stroke="#000" stroke-width="3.2"/>
<path d="M1570.33 422.33L1581.58 444.33L1559.08 444.33Z" fill="#808080" stroke="#000" stroke-width="3.2"/>
<path d="M1653.31 431.57L1664.56 453.57L1642.06 453.57Z" fill="#808080" stroke="#000" stroke-width="3.2"/>
<rect x="1226.39" y="156.77" width="24" height="24" fill="#808080" stroke="#000" stroke-width="3.2"/>
<rect x="1309.38" y="313.23" width="24" height="24" fill="#808080" stroke="#000" stroke-width="3.2"/>
<rect x="1392.36" y="399.62" width="24" height="24" fill="#808080" stroke="#000" stroke-width="3.2"/>
<rect x="1475.34" y="457.65" width="24" height="24" fill="#808080" stroke="#000" stroke-width="3.2"/>
<rect x="1558.33" y="487.31" width="24" height="24" fill="#808080" stroke="#000" stroke-width="3.2"/>
<rect x="1641.31" y="496.76" width="24" height="24" fill="#808080" stroke="#000" stroke-width="3.2"/>
<path d="M1238.39 156.97L1250.19 168.77L1238.39 180.57L1226.59 168.77Z" fill="#808080" stroke="#000" stroke-width="3.2"/>
<path d="M1321.38 269.15L1333.17 280.95L1321.38 292.75L1309.58 280.95Z" fill="#808080" stroke="#000" stroke-width="3.2"/>
<path d="M1404.36 380.91L1416.16 392.71L1404.36 404.51L1392.56 392.71Z" fill="#808080" stroke="#000" stroke-width="3.2"/>
<path d="M1487.34 455.7L1499.14 467.5L1487.34 479.3L1475.54 467.5Z" fill="#808080" stroke="#000" stroke-width="3.2"/>
<path d="M1570.33 492.24L1582.12 504.04L1570.33 515.84L1558.53 504.04Z" fill="#808080" stroke="#000" stroke-width="3.2"/>
<path d="M1653.31 494.39L1665.11 506.19L1653.31 517.99L1641.51 506.19Z" fill="#808080" stroke="#000" stroke-width="3.2"/>
<circle cx="1238.39" cy="168.77" r="11.75" fill="#fff" stroke="#000" stroke-width="3.2"/>
<circle cx="1321.38" cy="258.6" r="11.75" fill="#fff" stroke="#000" stroke-width="3.2"/>
<circle cx="1404.36" cy="418.93" r="11.75" fill="#fff" stroke="#000" stroke-width="3.2"/>
<circle cx="1487.34" cy="469.65" r="11.75" fill="#fff" stroke="#000" stroke-width="3.2"/>
<circle cx="1570.33" cy="471.37" r="11.75" fill="#fff" stroke="#000" stroke-width="3.2"/>
<circle cx="1653.31" cy="489.42" r="11.75" fill="#fff" stroke="#000" stroke-width="3.2"/>
<path d="M1238.39 157.77L1249.64 179.77L1227.14 179.77Z" fill="#fff" stroke="#000" stroke-width="3.2"/>
<path d="M1321.38 254.05L1332.62 276.05L1310.12 276.05Z" fill="#fff" stroke="#000" stroke-width="3.2"/>
<path d="M1404.36 350.33L1415.61 372.33L1393.11 372.33Z" fill="#fff" stroke="#000" stroke-width="3.2"/>
<path d="M1487.34 428.99L1498.59 450.99L1476.09 450.99Z" fill="#fff" stroke="#000" stroke-width="3.2"/>
<path d="M1570.33 422.33L1581.58 444.33L1559.08 444.33Z" fill="#fff" stroke="#000" stroke-width="3.2"/>
<path d="M1653.31 431.57L1664.56 453.57L1642.06 453.57Z" fill="#fff" stroke="#000" stroke-width="3.2"/>
<rect x="1226.39" y="156.77" width="24" height="24" fill="#fff" stroke="#000" stroke-width="3.2"/>
<rect x="1309.38" y="411.23" width="24" height="24" fill="#fff" stroke="#000" stroke-width="3.2"/>
<rect x="1392.36" y="441.32" width="24" height="24" fill="#fff" stroke="#000" stroke-width="3.2"/>
<rect x="1475.34" y="458.51" width="24" height="24" fill="#fff" stroke="#000" stroke-width="3.2"/>
<rect x="1558.33" y="475.7" width="24" height="24" fill="#fff" stroke="#000" stroke-width="3.2"/>
<rect x="1641.31" y="488.6" width="24" height="24" fill="#fff" stroke="#000" stroke-width="3.2"/>
<path d="M1238.39 156.97L1250.19 168.77L1238.39 180.57L1226.59 168.77Z" fill="#fff" stroke="#000" stroke-width="3.2"/>
<path d="M1321.38 208.98L1333.17 220.78L1321.38 232.58L1309.58 220.78Z" fill="#fff" stroke="#000" stroke-width="3.2"/>
<path d="M1404.36 333.2L1416.16 345L1404.36 356.8L1392.56 345Z" fill="#fff" stroke="#000" stroke-width="3.2"/>
<path d="M1487.34 450.97L1499.14 462.77L1487.34 474.57L1475.54 462.77Z" fill="#fff" stroke="#000" stroke-width="3.2"/>
<path d="M1570.33 497.82L1582.12 509.62L1570.33 521.42L1558.53 509.62Z" fill="#fff" stroke="#000" stroke-width="3.2"/>
<path d="M1653.31 496.11L1665.11 507.91L1653.31 519.71L1641.51 507.91Z" fill="#fff" stroke="#000" stroke-width="3.2"/>
<line x1="1724.4" y1="131" x2="1781.2" y2="131" stroke="#000" stroke-width="3.3" stroke-linecap="round"/>
<circle cx="1752.8" cy="131" r="10" fill="#808080" stroke="#000" stroke-width="3"/>
<text x="1787.2" y="142.4" font-size="36.4" text-anchor="start">CPACr-p</text>
<line x1="1724.4" y1="187.3" x2="1781.2" y2="187.3" stroke="#000" stroke-width="3.3" stroke-linecap="round"/>
<path d="M1752.8 177.8L1762.45 196.8L1743.15 196.8Z" fill="#808080" stroke="#000" stroke-width="3"/>
<text x="1787.2" y="198.7" font-size="36.4" text-anchor="start">CPACr-AD4</text>
<line x1="1724.4" y1="243.6" x2="1781.2" y2="243.6" stroke="#000" stroke-width="3.3" stroke-linecap="round"/>
<rect x="1742.55" y="233.35" width="20.5" height="20.5" fill="#808080" stroke="#000" stroke-width="3"/>
<text x="1787.2" y="255" font-size="36.4" text-anchor="start">CPACr-AH4</text>
<line x1="1724.4" y1="299.9" x2="1781.2" y2="299.9" stroke="#000" stroke-width="3.3" stroke-linecap="round"/>
<path d="M1752.8 289.6L1763.1 299.9L1752.8 310.2L1742.5 299.9Z" fill="#808080" stroke="#000" stroke-width="3"/>
<text x="1787.2" y="311.3" font-size="36.4" text-anchor="start">CPACr-BC9</text>
<line x1="1724.4" y1="356.2" x2="1781.2" y2="356.2" stroke="#000" stroke-width="3.3" stroke-linecap="round"/>
<circle cx="1752.8" cy="356.2" r="10" fill="#fff" stroke="#000" stroke-width="3"/>
<text x="1787.2" y="367.6" font-size="36.4" text-anchor="start">CPACr-BH12</text><g fill="#fff"><rect x="1962.34" y="363.33" width="7.09" height="5.33"/><rect x="1972.86" y="363.33" width="6.90" height="5.33"/></g>
<line x1="1724.4" y1="412.5" x2="1781.2" y2="412.5" stroke="#000" stroke-width="3.3" stroke-linecap="round"/>
<path d="M1752.8 403L1762.45 422L1743.15 422Z" fill="#fff" stroke="#000" stroke-width="3"/>
<text x="1787.2" y="423.9" font-size="36.4" text-anchor="start">CPACr-CB2</text>
<line x1="1724.4" y1="468.8" x2="1781.2" y2="468.8" stroke="#000" stroke-width="3.3" stroke-linecap="round"/>
<rect x="1742.55" y="458.55" width="20.5" height="20.5" fill="#fff" stroke="#000" stroke-width="3"/>
<text x="1787.2" y="480.2" font-size="36.4" text-anchor="start">CPACr-DC3</text>
<line x1="1724.4" y1="525.1" x2="1781.2" y2="525.1" stroke="#000" stroke-width="3.3" stroke-linecap="round"/>
<path d="M1752.8 514.8L1763.1 525.1L1752.8 535.4L1742.5 525.1Z" fill="#fff" stroke="#000" stroke-width="3"/>
<text x="1787.2" y="536.5" font-size="36.4" text-anchor="start">CPACr-DD10</text><g fill="#fff"><rect x="1964.34" y="532.23" width="7.09" height="5.33"/><rect x="1974.86" y="532.23" width="6.90" height="5.33"/></g>
<line x1="157.5" y1="897.4" x2="157.5" y2="1426.7" stroke="#000" stroke-width="2.6" stroke-linecap="butt"/>
<line x1="154.2" y1="1425.5" x2="997" y2="1425.5" stroke="#000" stroke-width="3" stroke-linecap="butt"/>
<text x="129.9" y="1436" font-size="30" text-anchor="end">0</text>
<text x="129.9" y="1339.9" font-size="30" text-anchor="end">1</text><g fill="#fff"><rect x="114.82" y="1336.38" width="5.84" height="4.39"/><rect x="123.50" y="1336.38" width="5.68" height="4.39"/></g>
<text x="129.9" y="1243.8" font-size="30" text-anchor="end">10</text><g fill="#fff"><rect x="98.14" y="1240.28" width="5.84" height="4.39"/><rect x="106.81" y="1240.28" width="5.68" height="4.39"/></g>
<text x="129.9" y="1147.7" font-size="30" text-anchor="end">100</text><g fill="#fff"><rect x="81.45" y="1144.18" width="5.84" height="4.39"/><rect x="90.12" y="1144.18" width="5.68" height="4.39"/></g>
<text x="129.9" y="1051.6" font-size="30" text-anchor="end">1000</text><g fill="#fff"><rect x="64.76" y="1048.08" width="5.84" height="4.39"/><rect x="73.43" y="1048.08" width="5.68" height="4.39"/></g>
<text x="129.9" y="955.5" font-size="30" text-anchor="end">10000</text><g fill="#fff"><rect x="48.07" y="951.98" width="5.84" height="4.39"/><rect x="56.75" y="951.98" width="5.68" height="4.39"/></g>
<line x1="181.8" y1="1171.55" x2="181.8" y2="1159.1" stroke="#000" stroke-width="2.5" stroke-linecap="butt"/>
<line x1="174.9" y1="1159.1" x2="188.7" y2="1159.1" stroke="#000" stroke-width="2.5" stroke-linecap="butt"/>
<rect x="165.55" y="1171.55" width="32.5" height="253.95" fill="#c0c0c0" stroke="#000" stroke-width="2.5"/>
<rect x="214.35" y="946.55" width="32.5" height="478.95" fill="#c0c0c0" stroke="#000" stroke-width="2.5"/>
<line x1="223.6" y1="946.55" x2="237.6" y2="946.55" stroke="#000" stroke-width="3.4" stroke-linecap="butt"/>
<rect x="263.15" y="946.55" width="32.5" height="478.95" fill="#c0c0c0" stroke="#000" stroke-width="2.5"/>
<line x1="272.4" y1="946.55" x2="286.4" y2="946.55" stroke="#000" stroke-width="3.4" stroke-linecap="butt"/>
<line x1="328.2" y1="1207.05" x2="328.2" y2="1178.6" stroke="#000" stroke-width="2.5" stroke-linecap="butt"/>
<line x1="321.3" y1="1178.6" x2="335.1" y2="1178.6" stroke="#000" stroke-width="2.5" stroke-linecap="butt"/>
<rect x="311.95" y="1207.05" width="32.5" height="218.45" fill="#c0c0c0" stroke="#000" stroke-width="2.5"/>
<line x1="377" y1="1251.35" x2="377" y2="1241.1" stroke="#000" stroke-width="2.5" stroke-linecap="butt"/>
<line x1="370.1" y1="1241.1" x2="383.9" y2="1241.1" stroke="#000" stroke-width="2.5" stroke-linecap="butt"/>
<rect x="360.75" y="1251.35" width="32.5" height="174.15" fill="#c0c0c0" stroke="#000" stroke-width="2.5"/>
<line x1="425.8" y1="1316.45" x2="425.8" y2="1306.7" stroke="#000" stroke-width="2.5" stroke-linecap="butt"/>
<line x1="418.9" y1="1306.7" x2="432.7" y2="1306.7" stroke="#000" stroke-width="2.5" stroke-linecap="butt"/>
<rect x="409.55" y="1316.45" width="32.5" height="109.05" fill="#c0c0c0" stroke="#000" stroke-width="2.5"/>
<rect x="458.35" y="946.55" width="32.5" height="478.95" fill="#c0c0c0" stroke="#000" stroke-width="2.5"/>
<line x1="467.6" y1="946.55" x2="481.6" y2="946.55" stroke="#000" stroke-width="3.4" stroke-linecap="butt"/>
<line x1="523.4" y1="1160.35" x2="523.4" y2="1148.3" stroke="#000" stroke-width="2.5" stroke-linecap="butt"/>
<line x1="516.5" y1="1148.3" x2="530.3" y2="1148.3" stroke="#000" stroke-width="2.5" stroke-linecap="butt"/>
<rect x="507.15" y="1160.35" width="32.5" height="265.15" fill="#c0c0c0" stroke="#000" stroke-width="2.5"/>
<line x1="621" y1="1308.65" x2="621" y2="1288.7" stroke="#000" stroke-width="2.5" stroke-linecap="butt"/>
<line x1="614.1" y1="1288.7" x2="627.9" y2="1288.7" stroke="#000" stroke-width="2.5" stroke-linecap="butt"/>
<rect x="604.75" y="1308.65" width="32.5" height="116.85" fill="#c0c0c0" stroke="#000" stroke-width="2.5"/>
<line x1="669.8" y1="1252.95" x2="669.8" y2="1225.4" stroke="#000" stroke-width="2.5" stroke-linecap="butt"/>
<line x1="662.9" y1="1225.4" x2="676.7" y2="1225.4" stroke="#000" stroke-width="2.5" stroke-linecap="butt"/>
<rect x="653.55" y="1252.95" width="32.5" height="172.55" fill="#c0c0c0" stroke="#000" stroke-width="2.5"/>
<line x1="718.6" y1="1247.55" x2="718.6" y2="1219.8" stroke="#000" stroke-width="2.5" stroke-linecap="butt"/>
<line x1="711.7" y1="1219.8" x2="725.5" y2="1219.8" stroke="#000" stroke-width="2.5" stroke-linecap="butt"/>
<rect x="702.35" y="1247.55" width="32.5" height="177.95" fill="#c0c0c0" stroke="#000" stroke-width="2.5"/>
<line x1="767.4" y1="1233.55" x2="767.4" y2="1220.9" stroke="#000" stroke-width="2.5" stroke-linecap="butt"/>
<line x1="760.5" y1="1220.9" x2="774.3" y2="1220.9" stroke="#000" stroke-width="2.5" stroke-linecap="butt"/>
<rect x="751.15" y="1233.55" width="32.5" height="191.95" fill="#c0c0c0" stroke="#000" stroke-width="2.5"/>
<line x1="816.2" y1="1246.35" x2="816.2" y2="1229.4" stroke="#000" stroke-width="2.5" stroke-linecap="butt"/>
<line x1="809.3" y1="1229.4" x2="823.1" y2="1229.4" stroke="#000" stroke-width="2.5" stroke-linecap="butt"/>
<rect x="799.95" y="1246.35" width="32.5" height="179.15" fill="#c0c0c0" stroke="#000" stroke-width="2.5"/>
<line x1="865" y1="1208.65" x2="865" y2="1188.8" stroke="#000" stroke-width="2.5" stroke-linecap="butt"/>
<line x1="858.1" y1="1188.8" x2="871.9" y2="1188.8" stroke="#000" stroke-width="2.5" stroke-linecap="butt"/>
<rect x="848.75" y="1208.65" width="32.5" height="216.85" fill="#c0c0c0" stroke="#000" stroke-width="2.5"/>
<rect x="897.55" y="1329.95" width="32.5" height="95.55" fill="#c0c0c0" stroke="#000" stroke-width="2.5"/>
<line x1="906.8" y1="1329.95" x2="920.8" y2="1329.95" stroke="#000" stroke-width="3.4" stroke-linecap="butt"/>
<line x1="962.6" y1="1200.75" x2="962.6" y2="1187.6" stroke="#000" stroke-width="2.5" stroke-linecap="butt"/>
<line x1="955.7" y1="1187.6" x2="969.5" y2="1187.6" stroke="#000" stroke-width="2.5" stroke-linecap="butt"/>
<rect x="946.35" y="1200.75" width="32.5" height="224.75" fill="#c0c0c0" stroke="#000" stroke-width="2.5"/>
<polyline points="181.4,1142.2 181.4,870.1 620.8,870.1 620.8,1278.2" fill="none" stroke="#000" stroke-width="3" stroke-linejoin="miter"/>
<text x="350.7" y="850" font-size="31.6"><tspan font-style="italic">p</tspan>&lt;0.01</text><g fill="#fff"><rect x="432.33" y="846.30" width="6.16" height="4.63"/><rect x="441.47" y="846.30" width="5.99" height="4.63"/></g>
<text x="211.4 232.4" y="942.3" font-size="45" font-weight="bold">**</text>
<text x="260.2 281.2" y="942.3" font-size="45" font-weight="bold">**</text>
<text x="455.4 476.4" y="942.3" font-size="45" font-weight="bold">**</text>
<text x="661.1" y="1227.4" font-size="45" font-weight="bold">*</text>
<text x="709.9" y="1225.2" font-size="45" font-weight="bold">*</text>
<text x="748.2 769.2" y="1216.2" font-size="45" font-weight="bold">**</text>
<text x="807.5" y="1234.2" font-size="45" font-weight="bold">*</text>
<text x="845.8 866.8" y="1196" font-size="45" font-weight="bold">**</text>
<text x="943.4 964.4" y="1196" font-size="45" font-weight="bold">**</text>
<text x="370.5" y="1222.7" font-size="27" font-weight="bold">&#8224;</text>
<text x="413.2 426.2" y="1295.4" font-size="27" font-weight="bold">&#8224;&#8224;</text>
<text x="0" y="0" font-size="36.3" text-anchor="end" transform="translate(192.8 1463.3) rotate(-60)">p</text>
<text x="0" y="0" font-size="36.3" text-anchor="end" transform="translate(241.6 1463.3) rotate(-60)">AB4</text>
<text x="0" y="0" font-size="36.3" text-anchor="end" transform="translate(290.4 1463.3) rotate(-60)">AC12</text><g fill="#fff" transform="translate(290.4 1463.3) rotate(-60)"><rect x="-38.43" y="-4.25" width="7.07" height="5.32"/><rect x="-27.93" y="-4.25" width="6.88" height="5.32"/></g>
<text x="0" y="0" font-size="36.3" text-anchor="end" transform="translate(339.2 1463.3) rotate(-60)">AD4</text>
<text x="0" y="0" font-size="36.3" text-anchor="end" transform="translate(388 1463.3) rotate(-60)">AE3</text>
<text x="0" y="0" font-size="36.3" text-anchor="end" transform="translate(436.8 1463.3) rotate(-60)">BB4</text>
<text x="0" y="0" font-size="36.3" text-anchor="end" transform="translate(485.6 1463.3) rotate(-60)">CG11</text><g fill="#fff" transform="translate(485.6 1463.3) rotate(-60)"><rect x="-35.74" y="-4.25" width="7.07" height="5.32"/><rect x="-25.24" y="-4.25" width="6.88" height="5.32"/><rect x="-18.24" y="-4.25" width="7.07" height="5.32"/><rect x="-7.74" y="-4.25" width="6.88" height="5.32"/></g>
<text x="0" y="0" font-size="36.3" text-anchor="end" transform="translate(534.4 1463.3) rotate(-60)">DC10</text><g fill="#fff" transform="translate(534.4 1463.3) rotate(-60)"><rect x="-38.44" y="-4.25" width="7.07" height="5.32"/><rect x="-27.95" y="-4.25" width="6.88" height="5.32"/></g>
<text x="0" y="0" font-size="36.3" text-anchor="end" transform="translate(632 1463.3) rotate(-60)">p</text>
<text x="0" y="0" font-size="36.3" text-anchor="end" transform="translate(680.8 1463.3) rotate(-60)">AD4</text>
<text x="0" y="0" font-size="36.3" text-anchor="end" transform="translate(729.6 1463.3) rotate(-60)">AH4</text>
<text x="0" y="0" font-size="36.3" text-anchor="end" transform="translate(778.4 1463.3) rotate(-60)">BC9</text>
<text x="0" y="0" font-size="36.3" text-anchor="end" transform="translate(827.2 1463.3) rotate(-60)">BH12</text><g fill="#fff" transform="translate(827.2 1463.3) rotate(-60)"><rect x="-38.43" y="-4.25" width="7.07" height="5.32"/><rect x="-27.93" y="-4.25" width="6.88" height="5.32"/></g>
<text x="0" y="0" font-size="36.3" text-anchor="end" transform="translate(876 1463.3) rotate(-60)">CB2</text>
<text x="0" y="0" font-size="36.3" text-anchor="end" transform="translate(924.8 1463.3) rotate(-60)">DC3</text>
<text x="0" y="0" font-size="36.3" text-anchor="end" transform="translate(973.6 1463.3) rotate(-60)">DD10</text><g fill="#fff" transform="translate(973.6 1463.3) rotate(-60)"><rect x="-38.44" y="-4.25" width="7.07" height="5.32"/><rect x="-27.95" y="-4.25" width="6.88" height="5.32"/></g>
<text x="376.5" y="1604.8" font-size="37" text-anchor="middle">CPACd</text>
<text x="792" y="1604.8" font-size="37" text-anchor="middle">CPACr</text>
<text x="0" y="0" font-size="36.2" text-anchor="middle" transform="translate(26.3 1137) rotate(-90)">IC50 (nM)</text>
<text x="7.9" y="853.9" font-size="51.5" text-anchor="start">(c)</text>
</svg></body></html>
